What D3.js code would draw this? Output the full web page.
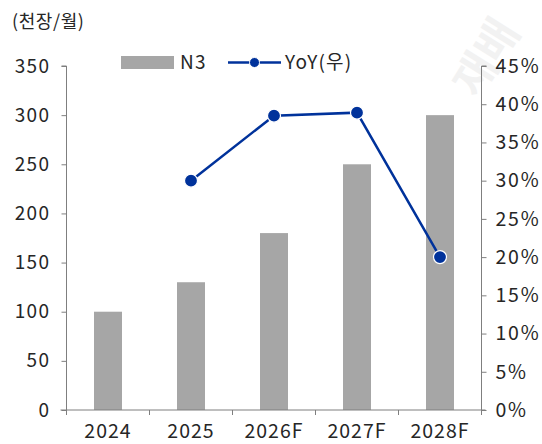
<!DOCTYPE html>
<html>
<head>
<meta charset="utf-8">
<script src="https://cdn.jsdelivr.net/npm/d3@7"></script>
<style>
  html, body { margin: 0; padding: 0; background: #fff; }
  svg { display: block; }
  text { font-family: "Noto Sans CJK KR", "Noto Sans", sans-serif; }
</style>
</head>
<body>
<svg id="chart" width="542" height="444"></svg>
<script>
// Monthly N3 capacity (thousand sheets / month) and year-over-year growth
const categories = ["2024", "2025", "2026F", "2027F", "2028F"];
const n3Values = [100, 130, 180, 250, 300];
const yoyValues = [null, 0.30, 0.385, 0.389, 0.20];
const leftTicks = [0, 50, 100, 150, 200, 250, 300, 350];
const rightTicks = [0, 0.05, 0.10, 0.15, 0.20, 0.25, 0.30, 0.35, 0.40, 0.45];
const unitLabel = "(천장/월)";
const seriesNames = ["N3", "YoY(우)"];

const barColor = "#a6a6a6";
const lineColor = "#00329b";
const axisColor = "#7f7f7f";
const textColor = "#262626";

const svg = d3.select("#chart");
const margin = { left: 66.5, right: 60.5, top: 66, bottom: 34 };
const W = 542, H = 444;

const x = d3.scaleBand().domain(categories).range([margin.left, W - margin.right]);
const yL = d3.scaleLinear().domain([0, 350]).range([H - margin.bottom, margin.top]);
const yR = d3.scaleLinear().domain([0, 0.45]).range([H - margin.bottom, margin.top]);
const cx = c => x(c) + x.bandwidth() / 2;

// faint watermark
svg.append("text")
  .attr("transform", "translate(478,100) rotate(-58)")
  .attr("font-size", 44)
  .attr("font-weight", 700)
  .attr("fill", "#f2f2f2")
  .text("재배");

// bars
svg.append("g").selectAll("rect")
  .data(categories.map((c, i) => ({ c, v: n3Values[i] })))
  .join("rect")
  .attr("x", d => cx(d.c) - 14)
  .attr("width", 28)
  .attr("y", d => yL(d.v))
  .attr("height", d => yL(0) - yL(d.v))
  .attr("fill", barColor);

// left axis
const gL = svg.append("g").attr("transform", `translate(${margin.left},0)`)
  .call(d3.axisLeft(yL).tickValues(leftTicks).tickSize(5).tickPadding(11).tickFormat(d3.format("d")));
// right axis
const gR = svg.append("g").attr("transform", `translate(${W - margin.right},0)`)
  .call(d3.axisRight(yR).tickValues(rightTicks).tickSize(5).tickPadding(9).tickFormat(d => Math.round(d * 100) + "%"));
// bottom axis (category labels)
const gB = svg.append("g").attr("transform", `translate(0,${H - margin.bottom})`)
  .call(d3.axisBottom(x).tickSize(0));
gB.selectAll(".tick text").attr("y", 27.5).attr("dy", 0)
  .attr("font-size", 19.5).attr("letter-spacing", 1).attr("fill", textColor);
gB.select(".domain").remove();

// category boundary ticks and baseline
svg.append("g").selectAll("line")
  .data(d3.range(categories.length + 1))
  .join("line")
  .attr("x1", i => margin.left + i * x.step())
  .attr("x2", i => margin.left + i * x.step())
  .attr("y1", H - margin.bottom)
  .attr("y2", H - margin.bottom + 5)
  .attr("stroke", axisColor);
svg.append("line")
  .attr("x1", margin.left - 6).attr("x2", W - margin.right + 4)
  .attr("y1", H - margin.bottom).attr("y2", H - margin.bottom)
  .attr("stroke", axisColor);

[gL, gR].forEach(g => {
  g.select(".domain").attr("stroke", axisColor);
  g.selectAll(".tick line").attr("stroke", axisColor);
  g.selectAll(".tick text").attr("fill", textColor).attr("font-size", 19).attr("letter-spacing", 1.4);
});
gR.selectAll(".tick text").attr("font-size", 19.5).attr("letter-spacing", 1.8);
gL.select(".domain").attr("d", `M-5,${yL(350)}H0V${yL(0)}`);
gR.select(".domain").attr("d", `M5,${yR(0.45)}H0V${yR(0)}`);

// YoY line
const pts = categories.map((c, i) => ({ c, v: yoyValues[i] })).filter(d => d.v != null);
const line = d3.line().x(d => cx(d.c)).y(d => yR(d.v));
svg.append("path").datum(pts)
  .attr("d", line).attr("fill", "none")
  .attr("stroke", lineColor).attr("stroke-width", 2.5);
svg.append("g").selectAll("circle")
  .data(pts).join("circle")
  .attr("cx", d => cx(d.c))
  .attr("cy", d => yR(d.v))
  .attr("r", 6.5)
  .attr("fill", lineColor)
  .attr("stroke", "#fff").attr("stroke-width", 1.2);

// unit label
svg.append("text").attr("x", 12).attr("y", 28)
  .attr("font-size", 18).attr("letter-spacing", 0.6).attr("fill", textColor).text(unitLabel);

// legend
const lg = svg.append("g");
lg.append("rect").attr("x", 121).attr("y", 56).attr("width", 53).attr("height", 13).attr("fill", barColor);
lg.append("text").attr("x", 180).attr("y", 69).attr("font-size", 19).attr("letter-spacing", 1.2)
  .attr("fill", textColor).text(seriesNames[0]);
lg.append("line").attr("x1", 228).attr("x2", 281).attr("y1", 62.5).attr("y2", 62.5)
  .attr("stroke", lineColor).attr("stroke-width", 2.5);
lg.append("circle").attr("cx", 254.5).attr("cy", 62.5).attr("r", 5).attr("fill", lineColor)
  .attr("stroke", "#fff").attr("stroke-width", 1);
lg.append("text").attr("x", 285).attr("y", 69).attr("font-size", 19).attr("letter-spacing", 1.2)
  .attr("fill", textColor).text(seriesNames[1]);
</script>
</body>
</html>
